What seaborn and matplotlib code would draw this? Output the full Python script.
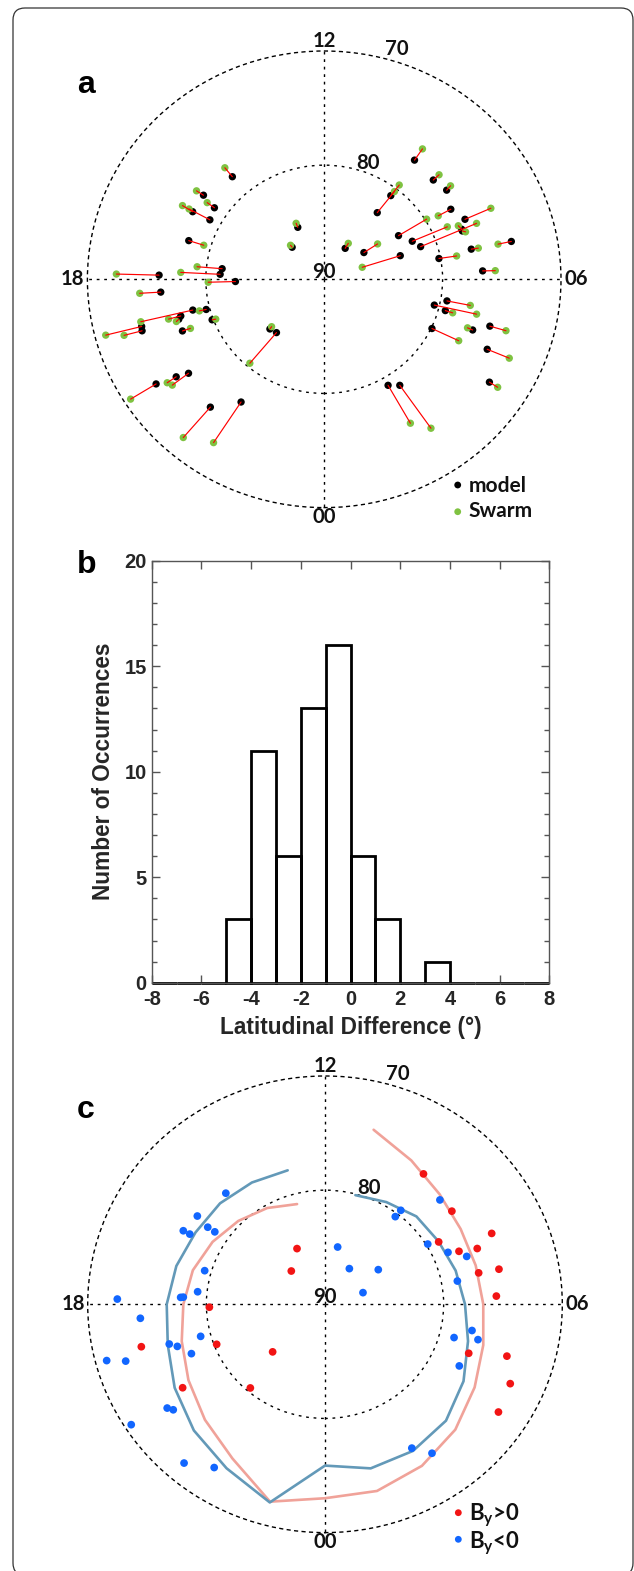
import numpy as np
import pandas as pd
import matplotlib
matplotlib.use("Agg")
import matplotlib.pyplot as plt
import seaborn as sns
from matplotlib.patches import FancyBboxPatch
from matplotlib.ticker import MultipleLocator
from matplotlib.transforms import IdentityTransform

# ---------------------------------------------------------------- data
# (a) boundary locations: model vs Swarm, magnetic local time (h) and MLat (deg)
model_mlt = [14.72, 15.61, 15.73, 16.13, 16.11, 16.90, 17.59, 17.81, 17.90, 18.10,
             18.31, 18.99, 19.37, 18.91, 19.00, 19.09, 18.99, 19.06, 19.38, 20.90,
             21.28, 20.19, 20.29, 20.38, 21.29, 21.79, 13.74, 14.93,
             9.59, 8.89, 8.47, 9.50, 9.50, 7.99, 7.59, 8.09, 7.61, 7.29,
             7.38, 7.33, 6.79, 6.80, 9.79, 8.33, 7.19, 6.71, 6.21, 5.31,
             5.09, 5.00, 4.70, 4.91, 4.31, 4.40, 3.81, 2.01, 2.30]
model_lat = [78.13, 77.42, 78.81, 77.41, 79.03, 78.07, 81.33, 81.20, 76.05, 82.50,
             76.15, 79.69, 79.89, 78.58, 74.04, 73.97, 77.47, 77.23, 77.20, 83.68,
             83.83, 73.10, 74.86, 75.89, 75.24, 77.16, 84.93, 86.10,
             77.07, 77.33, 77.04, 80.76, 82.64, 77.67, 77.00, 82.65, 81.85, 81.37,
             77.59, 77.59, 73.85, 77.30, 86.76, 85.91, 83.25, 80.14, 76.60, 79.46,
             80.43, 79.41, 76.70, 75.42, 79.93, 74.93, 73.39, 79.26, 78.73]
swarm_mlt = [14.71, 15.62, 15.72, 16.11, 16.11, 16.91, 17.61, 17.81, 17.90, 18.10,
             18.30, 18.98, 19.39, 18.90, 18.99, 19.08, 18.99, 19.10, 19.39, 20.87,
             21.30, 20.18, 20.29, 20.39, 21.29, 21.79, 13.72, 14.91,
             9.60, 8.89, 8.50, 9.50, 9.49, 8.00, 7.59, 8.09, 7.59, 7.39,
             7.50, 7.28, 6.79, 6.79, 9.81, 8.30, 7.21, 6.69, 6.20, 5.30,
             5.11, 4.99, 4.71, 4.91, 4.31, 4.41, 3.81, 2.00, 2.31]
swarm_lat = [77.12, 76.72, 78.05, 76.40, 77.03, 79.40, 79.21, 77.87, 72.44, 80.20,
             74.37, 79.10, 80.20, 74.07, 70.91, 72.40, 76.40, 76.98, 77.91, 83.92,
             80.33, 70.57, 73.94, 74.17, 71.73, 72.91, 84.55, 85.88,
             75.88, 76.66, 76.55, 79.59, 80.29, 78.88, 74.61, 79.87, 78.63, 76.23,
             77.74, 77.36, 75.00, 76.70, 86.25, 84.53, 86.62, 78.63, 75.53, 77.45,
             76.77, 78.76, 77.17, 74.00, 77.43, 72.91, 72.56, 75.44, 74.14]

# (b) histogram of latitudinal differences
diff_bin_edges = list(range(-8, 9))
diff_counts = [0, 0, 0, 3, 11, 6, 13, 16, 6, 3, 0, 1, 0, 0, 0, 0]

# (c) Swarm boundaries sorted by IMF By sign
bypos_mlt = [9.60, 8.49, 7.59, 7.98, 7.49, 7.39, 6.80, 6.79, 6.19, 4.70, 4.90,
             4.40, 3.81, 13.72, 14.95, 18.10, 19.40, 18.90, 20.89, 20.09, 21.29]
bypos_lat = [75.88, 76.55, 74.64, 78.97, 77.79, 76.27, 76.76, 75.02, 75.54, 77.15, 74.01,
             72.91, 72.60, 84.58, 85.93, 80.25, 80.22, 74.08, 83.93, 75.95, 80.34]
byneg_mlt = [14.71, 15.62, 16.11, 16.11, 15.71, 15.71, 16.92, 17.61, 17.81, 17.80,
             17.90, 18.30, 19.00, 18.99, 19.10, 19.40, 19.00, 19.10, 20.29, 20.39,
             20.19, 21.30, 21.79, 11.20, 9.78, 8.27, 7.18, 9.49, 9.48, 8.89,
             8.09, 7.58, 7.29, 6.69, 5.30, 5.00, 5.10, 4.30, 2.01, 2.31]
byneg_lat = [77.17, 76.75, 76.43, 77.05, 78.03, 78.75, 79.44, 79.21, 77.82, 78.04,
             72.49, 74.39, 79.15, 76.42, 77.02, 77.94, 70.95, 72.48, 73.89, 74.22,
             70.56, 71.71, 72.92, 84.87, 86.26, 84.58, 86.64, 80.30, 79.58, 76.68,
             79.86, 78.68, 77.34, 78.66, 77.40, 78.74, 76.74, 77.46, 75.43, 74.14]

# mean oval boundaries, hourly in MLT (24 = midnight)
oval_mlt = [13, 14, 15, 16, 17, 18, 19, 20, 21, 22, 23, 24, 1, 2, 3, 4, 5, 6, 7, 8, 9, 10, 11]
oval_neg_lat = [77.85, 77.68, 77.49, 77.40, 77.03, 76.66, 76.28, 75.37, 74.37, 73.41, 72.03, 75.87,
                75.12, 75.17, 75.58, 76.52, 77.52, 78.20, 78.60, 78.96, 79.11, 79.66, 80.10]
oval_pos_lat = [80.91, 80.26, 79.67, 79.06, 78.47, 78.06, 77.50, 76.71, 75.69, 74.40, 72.10, 73.01,
                73.07, 73.66, 74.47, 75.44, 76.19, 76.66, 76.85, 76.80, 76.35, 75.45, 74.17]

# ---------------------------------------------------------------- style
sns.set_theme(style="ticks")
plt.rcParams['font.family'] = ['Lato', 'DejaVu Sans']
plt.rcParams['axes.unicode_minus'] = False
plt.rcParams['mathtext.fontset'] = 'custom'
plt.rcParams['mathtext.rm'] = 'Lato:bold'
plt.rcParams['mathtext.it'] = 'Lato:bold'
plt.rcParams['mathtext.bf'] = 'Lato:bold'

GREEN = '#7fc241'
RED_DOT = '#f21414'
BLUE_DOT = '#1166ff'
OVAL_NEG = '#6399b8'
OVAL_POS = '#f0a299'
DASH = (0, (2.0, 3.4))
ARIAL = 'Liberation Sans'

W, H = 634, 1571
fig = plt.figure(figsize=(W / 100, H / 100), dpi=100)
fig.patch.set_facecolor('white')


def rect(x0, y0, x1, y1):
    """Pixel box measured from the top-left corner -> figure fraction rect."""
    return [x0 / W, 1 - y1 / H, (x1 - x0) / W, (y1 - y0) / H]


def to_theta(mlt):
    return np.asarray(mlt, dtype=float) * np.pi / 12.0


def to_colat(lat):
    return 90.0 - np.asarray(lat, dtype=float)


def dial(box):
    ax = fig.add_axes(box, projection='polar')
    ax.set_aspect('auto')
    ax.set_theta_zero_location('S')
    ax.set_theta_direction(1)
    ax.set_thetagrids([0, 90, 180, 270], labels=[''] * 4)
    ax.set_rgrids([10], labels=[''])
    ax.grid(True, color='black', lw=1.0, ls=DASH)
    sp = ax.spines['polar']
    sp.set_linestyle(DASH)
    sp.set_linewidth(1.0)
    sp.set_edgecolor('black')
    ax.set_facecolor('none')
    ax.set_axisbelow(True)
    ax.tick_params(pad=0)
    return ax


def dial_labels(ax):
    kw = dict(fontsize=14.6, fontweight='bold', ha='center', va='center',
              clip_on=False, color='#111111')
    for mlt, r, s in [(12, 20.85, '12'), (10.87, 21.1, '70'), (10.66, 10.82, '80'),
                      (12, 0.62, '90'), (18, 21.23, '18'), (6, 21.28, '06'),
                      (0, 20.85, '00')]:
        ax.text(mlt * np.pi / 12, r, s, **kw)


def finish_dial(ax):
    ax.set_ylim(0, 20)
    ax.set_xlabel('')
    ax.set_ylabel('')


# ---------------------------------------------------------------- (a)
ax_a = dial(rect(87.4, 51.0, 561.0, 507.6))
sns.scatterplot(x=to_theta(model_mlt), y=to_colat(model_lat), color='black', s=28,
                edgecolor='none', ax=ax_a, zorder=3, legend=False)
sns.scatterplot(x=to_theta(swarm_mlt), y=to_colat(swarm_lat), color=GREEN, s=28,
                edgecolor='none', ax=ax_a, zorder=4, legend=False)
n_pairs = len(model_mlt)
seg = pd.DataFrame({
    'pair': np.tile(np.arange(n_pairs), 2),
    'order': np.repeat([0, 1], n_pairs),
    'theta': np.concatenate([to_theta(model_mlt), to_theta(swarm_mlt)]),
    'r': np.concatenate([to_colat(model_lat), to_colat(swarm_lat)]),
}).sort_values(['pair', 'order'])
sns.lineplot(data=seg, x='theta', y='r', units='pair', estimator=None, sort=False,
             color='#ff0000', lw=0.85, ax=ax_a, zorder=5, legend=False)
dial_labels(ax_a)
finish_dial(ax_a)

for yk, yt, col, lab in [(0.0495, 0.0348, 'black', 'model'), (-0.0090, -0.0212, GREEN, 'Swarm')]:
    ax_a.scatter([0.7819], [yk], s=24, color=col, edgecolor='none',
                 transform=ax_a.transAxes, clip_on=False, zorder=6)
    ax_a.text(0.8043, yt, lab, transform=ax_a.transAxes, fontsize=15, fontweight='bold',
              ha='left', va='baseline', color='#111111')

# ---------------------------------------------------------------- (b)
ax_b = fig.add_axes(rect(151.7, 560.7, 549.3, 982.7))
centers = (np.array(diff_bin_edges[:-1]) + np.array(diff_bin_edges[1:])) / 2
sns.histplot(x=centers, weights=diff_counts, bins=diff_bin_edges, element='bars',
             fill=False, color='black', edgecolor='black', linewidth=2.0,
             clip_on=False, ax=ax_b)
ax_b.set_xlim(-8, 8)
ax_b.set_ylim(0, 20)
ax_b.set_xticks(range(-8, 9, 2))
ax_b.set_yticks(range(0, 21, 5))
ax_b.yaxis.set_minor_locator(MultipleLocator(1))
for s in ax_b.spines.values():
    s.set_color('#555555')
    s.set_linewidth(1.0)
ax_b.tick_params(which='both', direction='in', top=True, right=True, bottom=True,
                 left=True, color='#555555', width=1.0)
ax_b.tick_params(which='major', length=5.5, labelsize=14.5, pad=3.5)
ax_b.tick_params(axis='x', which='major', pad=5.2)
ax_b.tick_params(which='minor', length=3.6)
for lbl in ax_b.get_xticklabels() + ax_b.get_yticklabels():
    lbl.set_fontfamily(ARIAL)
    lbl.set_fontweight('bold')
ax_b.set_xlabel('Latitudinal Difference (°)', fontsize=16.3, fontweight='bold',
                fontfamily=ARIAL)
ax_b.set_ylabel('Number of Occurrences', fontsize=16.3, fontweight='bold',
                fontfamily=ARIAL)
ax_b.yaxis.set_label_coords(-0.092, 0.5)
ax_b.xaxis.set_label_coords(0.5, -0.078)

# ---------------------------------------------------------------- (c)
ax_c = dial(rect(87.7, 1076.0, 562.3, 1532.6))
sns.lineplot(x=to_theta(oval_mlt), y=to_colat(oval_pos_lat), sort=False, estimator=None,
             color=OVAL_POS, lw=1.9, ax=ax_c, zorder=3)
sns.lineplot(x=to_theta(oval_mlt), y=to_colat(oval_neg_lat), sort=False, estimator=None,
             color=OVAL_NEG, lw=1.9, ax=ax_c, zorder=3)
sns.scatterplot(x=to_theta(bypos_mlt), y=to_colat(bypos_lat), color=RED_DOT, s=31,
                edgecolor='none', ax=ax_c, zorder=4, legend=False)
sns.scatterplot(x=to_theta(byneg_mlt), y=to_colat(byneg_lat), color=BLUE_DOT, s=31,
                edgecolor='none', ax=ax_c, zorder=4, legend=False)
dial_labels(ax_c)
finish_dial(ax_c)

for yk, yt, col, lab in [(0.0436, 0.0276, RED_DOT, r'B$_{\mathrm{y}}$>0'),
                         (-0.0147, -0.0344, BLUE_DOT, r'B$_{\mathrm{y}}$<0')]:
    ax_c.scatter([0.7809], [yk], s=24, color=col, edgecolor='none',
                 transform=ax_c.transAxes, clip_on=False, zorder=6)
    ax_c.text(0.804, yt, lab, transform=ax_c.transAxes, fontsize=16, fontweight='bold',
              ha='left', va='baseline', color='#111111')

# ---------------------------------------------------------------- panel letters, frame
for letter, base in [('a', 92.7), ('b', 573.3), ('c', 1118.4)]:
    fig.text(77.0 / W, 1 - base / H, letter, fontsize=23, fontweight='bold',
             fontfamily=ARIAL, ha='left', va='baseline', color='black')

frame = FancyBboxPatch((13, -4), 620, 1567, boxstyle='round,pad=0,rounding_size=12',
                       transform=IdentityTransform(), fill=False, edgecolor='#333333',
                       lw=0.9)
fig.add_artist(frame)

fig.savefig('out.png', dpi=100, facecolor='white')
